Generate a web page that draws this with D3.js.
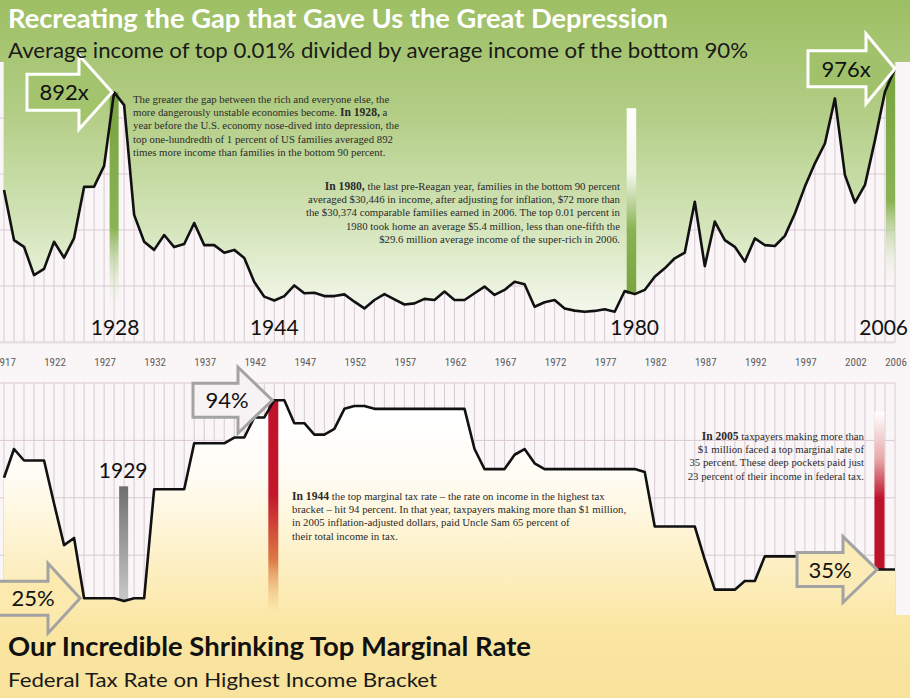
<!DOCTYPE html>
<html>
<head>
<meta charset="utf-8">
<script src="https://cdn.jsdelivr.net/npm/d3@7"></script>
<style>
  body { margin: 0; background: #faf5f6; }
  svg { display: block; }
</style>
</head>
<body>
<svg width="910" height="698"></svg>
<script>
// years shown on both charts
const firstYear = 1917;
const lastYear = 2006;
const years = d3.range(firstYear, lastYear + 1);

// top 0.01% average income / bottom 90% average income
const incomeRatio = [
  543, 364, 340, 239, 261, 358, 301, 371, 554, 555,   // 1917-1926
  629, 892, 846, 454, 358, 329, 382, 339, 350, 425,   // 1927-1936
  346, 346, 319, 329, 300, 214, 162, 148, 164, 202,   // 1937-1946
  174, 176, 164, 164, 170, 144, 120, 150, 171, 152,   // 1947-1956
  134, 138, 154, 150, 180, 150, 150, 174, 198, 168,   // 1957-1966
  186, 215, 206, 126, 142, 150, 120, 112, 108, 111,   // 1967-1976
  117, 108, 182, 171, 186, 233, 263, 299, 319, 501,   // 1977-1986
  271, 430, 364, 340, 287, 370, 346, 343, 379, 459,   // 1987-1996
  555, 638, 709, 870, 596, 498, 561, 721, 894, 976    // 1997-2006
];

// top marginal federal income tax rate, %
const topRate = [
  67, 77, 73, 73, 73, 58, 43.5, 46, 25, 25,           // 1917-1926
  25, 25, 24, 25, 25, 63, 63, 63, 63, 79,             // 1927-1936
  79, 79, 79, 81, 81, 88, 88, 94, 94, 86,             // 1937-1946
  86, 82, 82, 84, 91, 92, 92, 91, 91, 91,             // 1947-1956
  91, 91, 91, 91, 91, 91, 91, 77, 70, 70,             // 1957-1966
  70, 75, 77, 72, 70, 70, 70, 70, 70, 70,             // 1967-1976
  70, 70, 70, 70, 69, 50, 50, 50, 50, 50,             // 1977-1986
  38.5, 28, 28, 28, 31, 31, 39.6, 39.6, 39.6, 39.6,   // 1987-1996
  39.6, 39.6, 39.6, 39.6, 39.1, 38.6, 35, 35, 35, 35  // 1997-2006
];

const tickYears = [1917, 1922, 1927, 1932, 1937, 1942, 1947, 1952, 1957, 1962,
                   1967, 1972, 1977, 1982, 1987, 1992, 1997, 2002, 2006];
const ratioGrid = [0, 200, 400, 600, 800];
const rateGrid = [20, 40, 60, 80, 100];

const sans = "Lato, 'Open Sans', sans-serif";
const serif = "'Liberation Serif', 'DejaVu Serif', serif";

const svg = d3.select('svg');
const width = +svg.attr('width');
const height = +svg.attr('height');

const x = d3.scaleLinear().domain([firstYear, lastYear]).range([4, 895]);
const yTop = d3.scaleLinear().domain([0, 1000]).range([342, 62]);
const yBot = d3.scaleLinear().domain([0, 100]).range([670, 383]);

const ratioData = years.map((yr, i) => ({ year: yr, v: incomeRatio[i] }));
const rateData = years.map((yr, i) => ({ year: yr, v: topRate[i] }));

// gradients
const defs = svg.append('defs');
function grad(id, stops, attrs) {
  const g = defs.append('linearGradient').attr('id', id)
    .attr('x1', 0).attr('x2', 0).attr('y1', 0).attr('y2', 1);
  if (attrs) Object.entries(attrs).forEach(([k, v]) => g.attr(k, v));
  stops.forEach(([o, c, op]) => g.append('stop')
    .attr('offset', o).attr('stop-color', c).attr('stop-opacity', op == null ? 1 : op));
}
grad('greenBg', [[0, '#9dbf63'], [0.35, '#b2cd85'], [0.7, '#d3e4b8'], [1, '#f6f9f0']],
  { gradientUnits: 'userSpaceOnUse', y1: 0, y2: 318 });
grad('yellowBg', [[0, '#ffffff'], [0.2, '#fffcf4'], [0.5, '#fdf0c6'], [0.75, '#fae6a2'], [1, '#f8e29c']],
  { gradientUnits: 'userSpaceOnUse', y1: 420, y2: 698 });
grad('greenDown', [[0, '#79a33f'], [0.6, '#8ab454'], [1, '#ffffff', 0]]);
grad('greenUp', [[0, '#ffffff'], [0.35, '#f3f7ec'], [0.65, '#8ab454'], [1, '#79a33f']]);
grad('grayBar', [[0, '#6f6f6f'], [1, '#c9c9c9']]);
grad('redDown', [[0, '#c0112b'], [0.45, '#c3182b'], [0.75, '#dc7a45'], [1, '#fbe8a4', 0.4]]);
grad('redUp', [[0, '#ffffff'], [0.3, '#e7a8a8'], [0.55, '#c0112b'], [1, '#c0112b']]);

svg.append('rect').attr('width', width).attr('height', height).attr('fill', '#faf5f6');

// ---------- top chart ----------
const gridColor = '#d8cad1';
const topG = svg.append('g');

topG.selectAll('.vgrid').data(years).enter().append('line')
  .attr('x1', d => x(d)).attr('x2', d => x(d))
  .attr('y1', 60).attr('y2', yTop(0))
  .attr('stroke', gridColor).attr('stroke-width', 1);
topG.selectAll('.hgrid').data(ratioGrid).enter().append('line')
  .attr('x1', 0).attr('x2', x(lastYear))
  .attr('y1', d => yTop(d)).attr('y2', d => yTop(d))
  .attr('stroke', gridColor).attr('stroke-width', 1);

topG.append('rect').attr('width', width).attr('height', yTop(1000)).attr('fill', 'url(#greenBg)');
topG.append('path').datum(ratioData)
  .attr('fill', 'url(#greenBg)')
  .attr('d', d3.area().x(d => x(d.year)).y0(0).y1(d => yTop(d.v)));

// highlight bars
topG.append('rect').attr('x', x(1928) - 4.5).attr('width', 9)
  .attr('y', yTop(892)).attr('height', yTop(85) - yTop(892)).attr('fill', 'url(#greenDown)');
topG.append('rect').attr('x', x(1980) - 8).attr('width', 9.5)
  .attr('y', yTop(835)).attr('height', yTop(171) - yTop(835)).attr('fill', 'url(#greenUp)');
topG.append('rect').attr('x', x(2006) - 9).attr('width', 9)
  .attr('y', yTop(976)).attr('height', yTop(185) - yTop(976)).attr('fill', 'url(#greenDown)');

topG.append('path').datum(ratioData)
  .attr('fill', 'none').attr('stroke', '#111').attr('stroke-width', 2.6)
  .attr('stroke-linejoin', 'round')
  .attr('d', d3.line().x(d => x(d.year)).y(d => yTop(d.v)));

// ---------- year axis ----------
svg.append('line').attr('x1', 0).attr('x2', x(lastYear))
  .attr('y1', yTop(0) + 1).attr('y2', yTop(0) + 1).attr('stroke', '#e6dde1');
svg.append('g').selectAll('text').data(tickYears).enter().append('text')
  .attr('x', d => x(d) + 1).attr('y', 366)
  .attr('text-anchor', 'middle')
  .attr('font-family', "'Liberation Sans Narrow', 'Roboto Condensed', 'Liberation Sans', sans-serif")
  .attr('font-size', 11).attr('fill', '#5e5e5e')
  .text(d => d);

// ---------- bottom chart ----------
const botG = svg.append('g');
botG.selectAll('.vgrid').data(years).enter().append('line')
  .attr('x1', d => x(d)).attr('x2', d => x(d))
  .attr('y1', yBot(100)).attr('y2', 640)
  .attr('stroke', gridColor).attr('stroke-width', 1);
botG.selectAll('.hgrid').data(rateGrid).enter().append('line')
  .attr('x1', 0).attr('x2', x(lastYear))
  .attr('y1', d => yBot(d)).attr('y2', d => yBot(d))
  .attr('stroke', gridColor).attr('stroke-width', 1);

botG.append('rect').attr('y', 615).attr('width', width).attr('height', height - 615)
  .attr('fill', 'url(#yellowBg)');
botG.append('path').datum(rateData)
  .attr('fill', 'url(#yellowBg)')
  .attr('d', d3.area().x(d => x(d.year)).y0(height).y1(d => yBot(d.v)));

botG.append('rect').attr('x', x(1929) - 5).attr('width', 9)
  .attr('y', yBot(64)).attr('height', yBot(24) - yBot(64)).attr('fill', 'url(#grayBar)');
botG.append('rect').attr('x', x(1944) - 6).attr('width', 10)
  .attr('y', yBot(94)).attr('height', yBot(20) - yBot(94)).attr('fill', 'url(#redDown)');
botG.append('rect').attr('x', x(2005) - 10.5).attr('width', 10)
  .attr('y', yBot(90)).attr('height', yBot(35) - yBot(90)).attr('fill', 'url(#redUp)');

botG.append('path').datum(rateData)
  .attr('fill', 'none').attr('stroke', '#111').attr('stroke-width', 2.6)
  .attr('stroke-linejoin', 'round')
  .attr('d', d3.line().x(d => x(d.year)).y(d => yBot(d.v)));

// ---------- block arrows ----------
function arrow(tipX, tipY, left, base, bodyHalf, headHalf, fill, stroke, label, labelX) {
  const pts = [
    [left, tipY - bodyHalf], [base, tipY - bodyHalf], [base, tipY - headHalf],
    [tipX, tipY], [base, tipY + headHalf], [base, tipY + bodyHalf], [left, tipY + bodyHalf]
  ];
  svg.append('path').attr('d', d3.line()(pts) + 'Z')
    .attr('fill', fill).attr('stroke', stroke).attr('stroke-width', 3)
    .attr('stroke-linejoin', 'miter');
  svg.append('text').attr('x', labelX).attr('y', tipY + 8)
    .attr('font-family', sans).attr('font-size', 22).attr('fill', '#111')
    .attr('text-anchor', 'middle').text(label);
}
arrow(x(1928) - 2, yTop(892), 27, 79, 18, 37, '#a3c36d', '#ffffff', '892x', 64);
arrow(x(2006), yTop(976), 808, 866, 18, 35, '#a1c26a', '#ffffff', '976x', 846);
arrow(x(1944) - 2, yBot(94), 193, 238, 17, 33, '#f7f2f4', '#a3a3a3', '94%', 227);
arrow(x(1925) - 4, yBot(25), -3, 48, 17, 35, '#fbe9ad', '#a3a3a3', '25%', 33);
arrow(x(2004) + 2, yBot(35), 797, 843, 17, 33, '#fbebb6', '#a3a3a3', '35%', 830);

// ---------- big year labels ----------
const yearLabels = [
  { t: '1928', x: x(1928) + 1, y: 335, a: 'middle' },
  { t: '1944', x: x(1944), y: 335, a: 'middle' },
  { t: '1980', x: x(1980), y: 335, a: 'middle' },
  { t: '2006', x: width - 2, y: 335, a: 'end' },
  { t: '1929', x: x(1929) - 1, y: 478, a: 'middle' }
];
svg.append('g').selectAll('text').data(yearLabels).enter().append('text')
  .attr('x', d => d.x).attr('y', d => d.y).attr('text-anchor', d => d.a)
  .attr('font-family', sans).attr('font-size', 21).attr('fill', '#111')
  .text(d => d.t);

// ---------- titles ----------
function title(txt, xPos, yPos, size, weight, fill, len) {
  svg.append('text').attr('x', xPos).attr('y', yPos)
    .attr('font-family', sans).attr('font-size', size).attr('font-weight', weight)
    .attr('fill', fill).attr('textLength', len).attr('lengthAdjust', 'spacingAndGlyphs')
    .text(txt);
}
title('Recreating the Gap that Gave Us the Great Depression', 8, 28, 27, 'bold', '#ffffff', 660);
title('Average income of top 0.01% divided by average income of the bottom 90%', 8, 58, 21, 'normal', '#1a1a1a', 740);
title('Our Incredible Shrinking Top Marginal Rate', 8, 656, 27, 'bold', '#111', 523);
title('Federal Tax Rate on Highest Income Bracket', 8, 687, 20, 'normal', '#1a1a1a', 429);

// ---------- annotation notes ----------
function note(lines, xPos, y0, anchor) {
  const t = svg.append('text').attr('font-family', serif).attr('font-size', 10.8)
    .attr('fill', '#2b2b2b').attr('text-anchor', anchor);
  lines.forEach((ln, i) => {
    const row = t.append('tspan').attr('x', xPos).attr('y', y0 + i * 13.2);
    ln.split('**').forEach((s, j) => {
      if (s) row.append('tspan').attr('font-weight', j % 2 ? 'bold' : null)
        .attr('font-size', j % 2 ? 11.6 : null).text(s);
    });
  });
}
note([
  'The greater the gap between the rich and everyone else, the',
  'more dangerously unstable economies become. **In 1928,** a',
  'year before the U.S. economy nose-dived into depression, the',
  'top one-hundredth of 1 percent of US families averaged 892',
  'times more income than families in the bottom 90 percent.'
], 133, 103, 'start');
note([
  '**In 1980,** the last pre-Reagan year, families in the bottom 90 percent',
  'averaged $30,446 in income, after adjusting for inflation, $72 more than',
  'the $30,374 comparable families earned in 2006. The top 0.01 percent in',
  '1980 took home an average $5.4 million, less than one-fifth the',
  '$29.6 million average income of the super-rich in 2006.'
], 620, 190, 'end');
note([
  '**In 1944** the top marginal tax rate \u2013 the rate on income in the highest tax',
  'bracket \u2013 hit 94 percent. In that year, taxpayers making more than $1 million,',
  'in 2005 inflation-adjusted dollars, paid Uncle Sam 65 percent of',
  'their total income in tax.'
], 292, 500, 'start');
note([
  '**In 2005** taxpayers making more than',
  '$1 million faced a top marginal rate of',
  '35 percent. These deep pockets paid just',
  '23 percent of their income in federal tax.'
], 864, 440, 'end');
</script>
</body>
</html>
